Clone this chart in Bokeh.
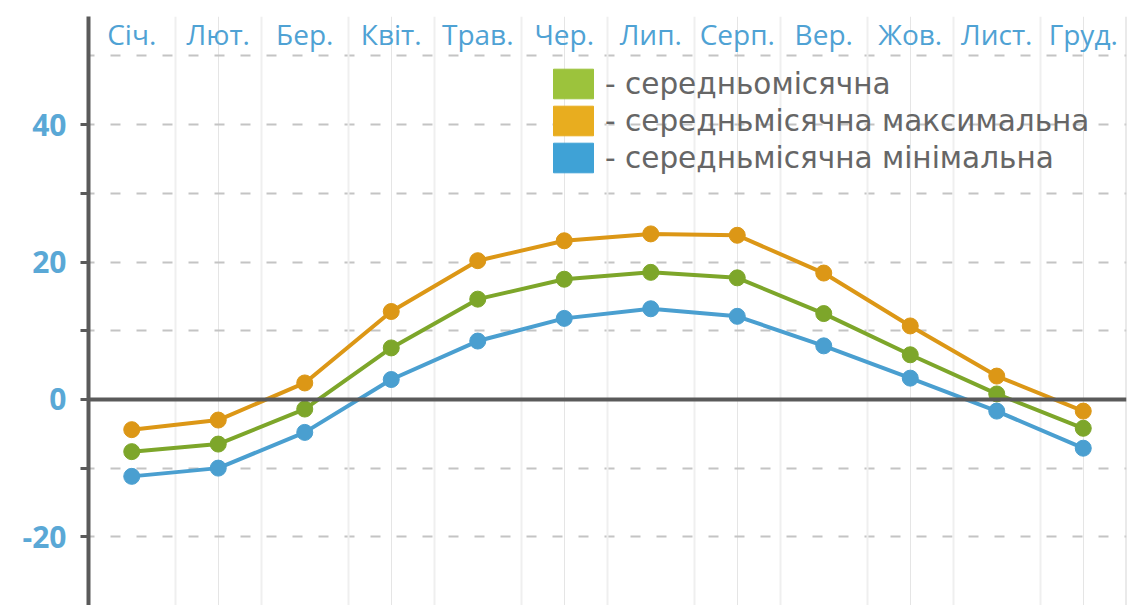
import numpy as np
from bokeh.plotting import figure
from bokeh.models import Range1d, FixedTicker, Span, Legend, LegendItem, Grid
from bokeh.core.properties import value
from bokeh.embed import file_html
from bokeh.resources import INLINE

months = ["Січ.", "Лют.", "Бер.", "Квіт.", "Трав.", "Чер.", "Лип.", "Серп.",
          "Вер.", "Жов.", "Лист.", "Груд."]
t_max = [-4.4, -3.0, 2.4, 12.8, 20.2, 23.1, 24.1, 23.9, 18.4, 10.7, 3.4, -1.7]
t_mean = [-7.6, -6.5, -1.4, 7.5, 14.6, 17.5, 18.5, 17.7, 12.5, 6.5, 0.8, -4.2]
t_min = [-11.2, -10.0, -4.8, 2.9, 8.5, 11.8, 13.2, 12.1, 7.8, 3.1, -1.7, -7.1]
labels = ["- середньомісячна", "- середньмісячна максимальна",
          "- середньмісячна мінімальна"]
y_ticks = [-20, -10, 0, 10, 20, 30, 40]
y_labeled = [-20, 0, 20, 40]

x = np.arange(1, len(months) + 1)

Y_TOP, Y_BOT = 55.75, -30.0

p = figure(width=1134, height=605, output_backend="svg", toolbar_location=None,
           x_range=Range1d(0.5, len(months) + 0.5), y_range=Range1d(Y_BOT, Y_TOP),
           min_border_left=88, min_border_right=8, min_border_top=16,
           min_border_bottom=0, x_axis_location=None)
p.outline_line_color = None
p.background_fill_color = "white"
p.border_fill_color = "white"

# y axis
ax = p.yaxis[0]
ax.ticker = FixedTicker(ticks=y_ticks)
ax.major_label_overrides = {t: ("" if t not in y_labeled else str(t)) for t in y_ticks}
ax.axis_line_color = "#5a5a5a"
ax.axis_line_width = 4
ax.major_tick_line_color = "#5a5a5a"
ax.major_tick_line_width = 3
ax.major_tick_out = 8
ax.major_tick_in = 0
ax.minor_tick_line_color = None
ax.major_label_text_font = "Open Sans"
ax.major_label_text_font_style = "bold"
ax.major_label_text_font_size = "30px"
ax.major_label_text_color = "#5aa8d6"
ax.major_label_standoff = 14

# grids
p.ygrid[0].ticker = FixedTicker(ticks=[-20, -10, 10, 20, 30, 40, 50])
p.ygrid[0].grid_line_color = "#c4c4c4"
p.ygrid[0].grid_line_width = 2
p.ygrid[0].grid_line_dash = "10 16"
p.ygrid[0].grid_line_dash_offset = 4
vgrid = Grid(dimension=0, ticker=FixedTicker(ticks=list(x[:-1] + 0.5)),
             grid_line_color="#efefef", grid_line_width=2)
p.add_layout(vgrid)

p.add_layout(Span(location=len(months) + 0.5, dimension="height",
                  line_color="#d6d6d6", line_width=2))
p.add_layout(Span(location=0, dimension="width", line_color="#5a5a5a", line_width=4))

# month labels along the top
p.text(x=x, y=[Y_TOP] * len(months), text=months, text_align="center",
       text_baseline="middle", y_offset=17, text_font=value("Open Sans"),
       text_font_size="28px", text_color="#4fa2d4")

line_cols = ["#7da62a", "#dc9716", "#4a9fd0"]
leg_cols = ["#9cc33c", "#e8ad1f", "#3fa2d6"]
for ys, c in zip([t_max, t_mean, t_min], [line_cols[1], line_cols[0], line_cols[2]]):
    p.line(x, ys, line_color=c, line_width=4)
    p.scatter(x, ys, size=16, fill_color=c, line_color=c)

items = []
nan = [float("nan")]
for lab, c in zip(labels, leg_cols):
    r = p.quad(left=nan, right=nan, top=nan, bottom=nan, fill_color=c, line_color=c)
    items.append(LegendItem(label=lab, renderers=[r]))

legend = Legend(items=items, location=(460, 429), orientation="vertical",
                glyph_width=50, glyph_height=37, label_height=37, spacing=-2,
                padding=0, margin=0, label_standoff=7,
                label_text_font="DejaVu Sans", label_text_font_size="29.5px",
                label_text_color="#666666", background_fill_alpha=0,
                border_line_color=None)
p.add_layout(legend)

open("out.html", "w").write(file_html(p, INLINE))
